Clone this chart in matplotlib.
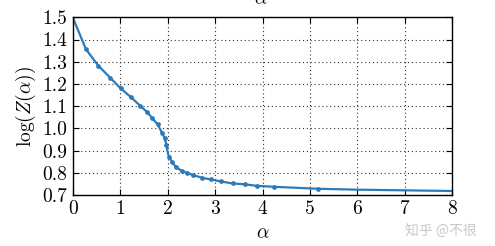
import numpy as np
import matplotlib
matplotlib.use("Agg")
import matplotlib.pyplot as plt

#Data
alpha = [0.0, 0.28, 0.54, 0.79, 1.01, 1.23, 1.42, 1.57, 1.68, 1.79, 1.89, 1.94,
         1.975, 1.995, 2.01, 2.03, 2.10, 2.17, 2.30, 2.40, 2.53, 2.72, 2.91, 3.12, 3.37,
         3.63, 3.89, 4.24, 5.18, 6.0, 7.0, 8.0]
logz = [1.500, 1.356, 1.282, 1.228, 1.180, 1.140, 1.102, 1.073, 1.045, 1.018, 0.977, 0.955,
        0.925, 0.900, 0.885, 0.872, 0.847, 0.827, 0.808, 0.800, 0.790, 0.778, 0.770, 0.761, 0.752,
        0.748, 0.741, 0.737, 0.728, 0.724, 0.721, 0.718]
marked = [1, 2, 3, 4, 5, 6, 7, 8, 9, 10, 11, 12, 15, 16, 17, 18, 19, 20, 21, 22,
          23, 24, 25, 26, 27, 28]

xticks = [0, 1, 2, 3, 4, 5, 6, 7, 8]
yticks = [0.7, 0.8, 0.9, 1.0, 1.1, 1.2, 1.3, 1.4, 1.5]

#Style
plt.rcParams["font.family"] = "serif"
plt.rcParams["font.serif"] = ["cmr10"]
plt.rcParams["mathtext.fontset"] = "cm"
plt.rcParams["axes.formatter.use_mathtext"] = True

fig = plt.figure(figsize=(4.95, 2.46), dpi=100)
ax = fig.add_axes([72.7 / 495, 1 - 195 / 246, (452.3 - 72.7) / 495, (195 - 17.3) / 246])

ax.plot(alpha, logz, color="#2b7bba", lw=1.6, marker="o", ms=2.4,
        markevery=marked)

ax.set_xlim(0, 8)
ax.set_ylim(0.7, 1.5)
ax.set_xticks(xticks)
ax.set_yticks(yticks)
ax.set_xticklabels([str(t) for t in xticks])
ax.set_yticklabels([f"{t:.1f}" for t in yticks])
ax.tick_params(direction="in", top=True, right=True, length=4, width=0.8, labelsize=14, pad=4)
ax.grid(True, color="#333333", linestyle=(0, (1, 2.5)), lw=0.8)
for s in ax.spines.values():
    s.set_linewidth(1.0)

ax.set_xlabel(r"$\alpha$", fontsize=14, labelpad=4)
ax.set_ylabel(r"$\log(Z(\alpha))$", fontsize=14, labelpad=3)

#cut-off label from the panel above
fig.text(261 / 495, 1 - 4 / 246, r"$\alpha$", fontsize=14, ha="center", va="baseline")

#watermark
fig.text(405 / 495, 1 - 232 / 246, "知乎 @不很", fontsize=10, color="#c8c8c8",
         family=["Noto Sans CJK SC", "DejaVu Sans"], va="center", ha="left")

fig.savefig("out.png", dpi=100)
